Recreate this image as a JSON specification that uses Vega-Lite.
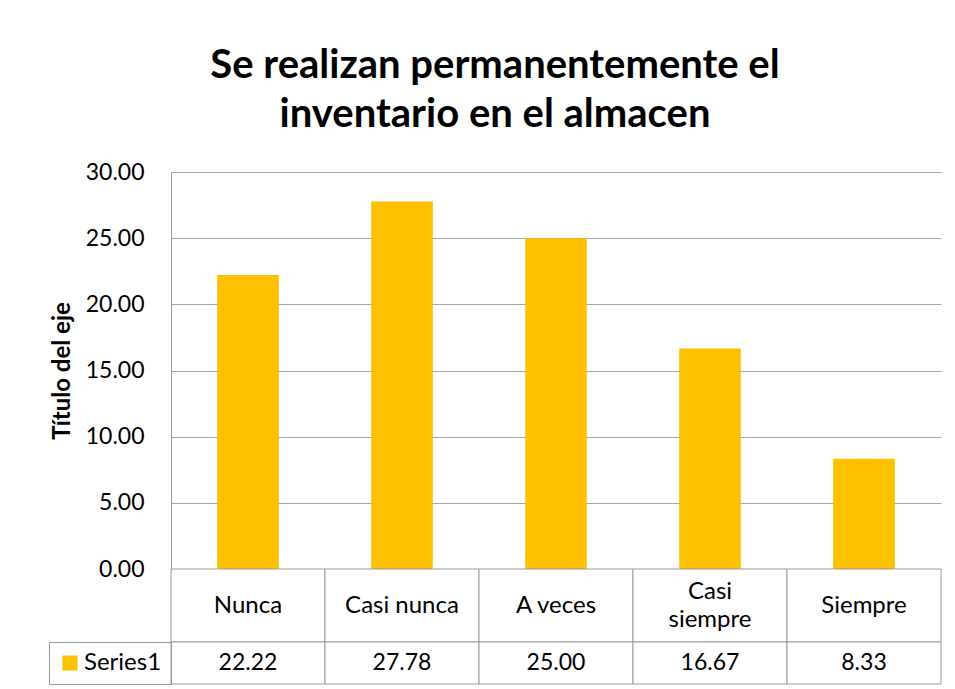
{
  "$schema": "https://vega.github.io/schema/vega-lite/v6.json",
  "padding": {"left": 48, "top": 46, "right": 0, "bottom": 0},
  "background": "white",
  "title": {
    "text": ["Se realizan permanentemente el", "inventario en el almacen"],
    "font": "Lato",
    "fontSize": 40,
    "fontWeight": "bold",
    "lineHeight": 49,
    "color": "#000000",
    "anchor": "middle",
    "offset": 26
  },
  "data": {
    "values": [
      {"cat": "Nunca", "label": "Nunca", "val": 22.22, "series": "Series1"},
      {"cat": "Casi nunca", "label": "Casi nunca", "val": 27.78, "series": "Series1"},
      {"cat": "A veces", "label": "A veces", "val": 25.00, "series": "Series1"},
      {"cat": "Casi siempre", "label": "Casi\nsiempre", "val": 16.67, "series": "Series1"},
      {"cat": "Siempre", "label": "Siempre", "val": 8.33, "series": "Series1"}
    ]
  },
  "bounds": "flush",
  "spacing": 0,
  "resolve": {"scale": {"color": "independent"}, "legend": {"color": "independent"}},
  "vconcat": [
    {
      "width": 770,
      "height": 397,
      "mark": {"type": "bar", "color": "#FFC000"},
      "encoding": {
        "x": {
          "field": "cat",
          "type": "nominal",
          "sort": null,
          "scale": {"paddingInner": 0.6, "paddingOuter": 0.3},
          "axis": null
        },
        "y": {
          "field": "val",
          "type": "quantitative",
          "scale": {"domain": [0, 30], "nice": false},
          "axis": {
            "values": [0, 5, 10, 15, 20, 25, 30],
            "format": ".2f",
            "title": "Título del eje",
            "titleFont": "Lato",
            "titleFontSize": 24,
            "titleFontWeight": "bold",
            "titleColor": "#000000",
            "titlePadding": 11,
            "labelFont": "Lato",
            "labelFontSize": 23,
            "labelColor": "#000000",
            "labelPadding": 27,
            "ticks": false,
            "grid": true,
            "gridColor": "#A6A6A6",
            "domainColor": "#999999"
          }
        }
      }
    },
    {
      "width": 770,
      "height": 73,
      "layer": [
        {
          "mark": {"type": "rect", "fill": "white", "stroke": "#999999", "strokeWidth": 1},
          "encoding": {
            "x": {"field": "cat", "type": "nominal", "sort": null, "scale": {"paddingInner": 0, "paddingOuter": 0}, "axis": null}
          }
        },
        {
          "mark": {
            "type": "text",
            "font": "Lato",
            "fontSize": 24,
            "color": "#000000",
            "lineBreak": "\n",
            "lineHeight": 28,
            "baseline": "middle",
            "dy": {"expr": "-(length(split(datum.label, '\\n')) - 1) * 14"}
          },
          "encoding": {
            "x": {"field": "cat", "type": "nominal", "sort": null, "axis": null},
            "text": {"field": "label"}
          }
        }
      ]
    },
    {
      "width": 770,
      "height": 42,
      "layer": [
        {
          "mark": {"type": "rect", "fill": "white", "stroke": "#999999", "strokeWidth": 1},
          "encoding": {
            "x": {"field": "cat", "type": "nominal", "sort": null, "scale": {"paddingInner": 0, "paddingOuter": 0}, "axis": null}
          }
        },
        {
          "mark": {"type": "text", "font": "Lato", "fontSize": 23, "color": "#000000"},
          "encoding": {
            "x": {"field": "cat", "type": "nominal", "sort": null, "axis": null},
            "text": {"field": "val", "type": "quantitative", "format": ".2f"}
          }
        },
        {
          "mark": {"type": "square", "opacity": 0},
          "encoding": {
            "x": {"field": "cat", "type": "nominal", "sort": null, "axis": null},
            "color": {
              "field": "series",
              "type": "nominal",
              "scale": {"range": ["#FFC000"]},
              "legend": {
                "orient": "left",
                "title": null,
                "offset": 0,
                "symbolType": "square",
                "symbolSize": 225,
                "symbolOpacity": 1,
                "symbolStrokeWidth": 0,
                "labelFont": "Lato",
                "labelFontSize": 24,
                "labelColor": "#000000",
                "labelOffset": 2,
                "padding": 9,
                "strokeColor": "#999999"
              }
            }
          }
        }
      ]
    }
  ],
  "config": {
    "view": {"stroke": null},
    "font": "Lato"
  }
}
